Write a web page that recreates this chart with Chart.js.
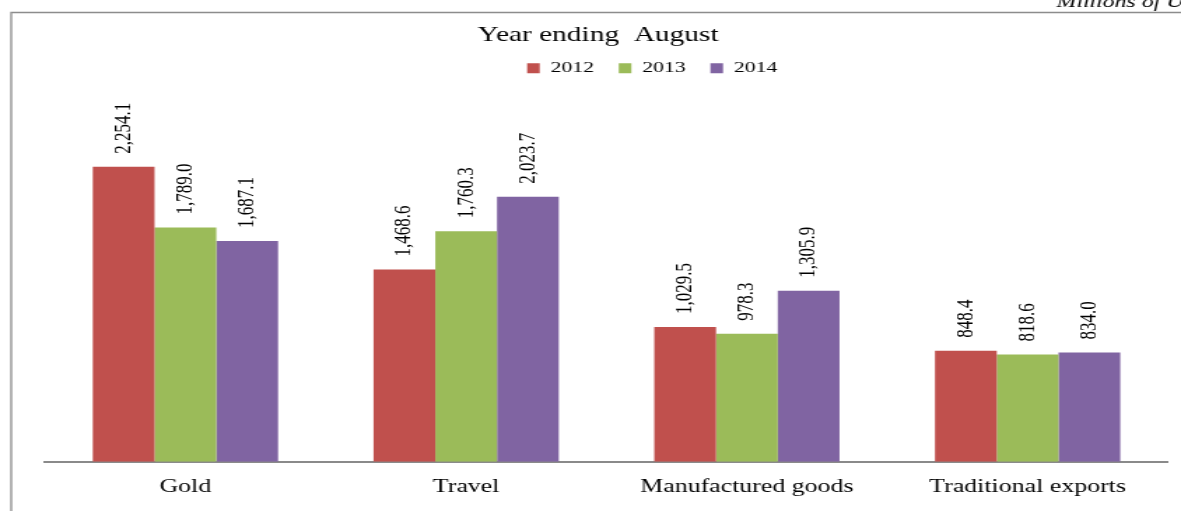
<!DOCTYPE html>
<html>
<head>
<meta charset="utf-8">
<script src="https://cdn.jsdelivr.net/npm/chart.js@4.4.1/dist/chart.umd.min.js"></script>
<style>
  html, body { margin: 0; padding: 0; background: #fff; overflow: hidden; }
</style>
</head>
<body>
<!-- the reference is stretched sideways, so the canvas is drawn narrow and widened by its inline style -->
<canvas id="c" width="844" height="511" style="display:block;width:1181px;height:511px"></canvas>
<script>

const categories = ['Gold', 'Travel', 'Manufactured goods', 'Traditional exports']
const years      = ['2012', '2013', '2014']
const values2012 = [2254.1, 1468.6, 1029.5, 848.4]
const values2013 = [1789.0, 1760.3, 978.3, 818.6]
const values2014 = [1687.1, 2023.7, 1305.9, 834.0]
const colors     = ['#C0504D', '#9BBB59', '#8064A2']

const serif = "'Liberation Serif', 'Times New Roman', serif"


//frame line, unit note and the shifted title / legend
const framePlugin = {
      id: 'frame',
      afterLayout: (chart)=>{
            // legend sits right of centre in the reference
            chart.legend.left  += 36.5
            chart.legend.right += 36.5
            chart.titleBlock.left  -= 6
            chart.titleBlock.right -= 6
      },
      beforeDraw: (chart)=>{
            const ctx = chart.ctx
            ctx.save()
            ctx.strokeStyle = '#8c8c8c'
            ctx.lineWidth = 1.3
            ctx.beginPath()
            ctx.moveTo(8, chart.height)
            ctx.lineTo(8, 12.5)
            ctx.lineTo(chart.width, 12.5)
            ctx.stroke()

            ctx.fillStyle = '#000'
            ctx.font = 'italic 17px ' + serif
            ctx.textBaseline = 'alphabetic'
            ctx.fillText('Millions of US$', 755, 7)
            ctx.restore()
      }
}


//vertical value labels over each bar
const labelPlugin = {
      id: 'barLabels',
      afterDatasetsDraw: (chart)=>{
            const ctx = chart.ctx
            ctx.save()
            ctx.fillStyle = '#000'
            ctx.font = '17px ' + serif
            ctx.textAlign = 'left'
            ctx.textBaseline = 'middle'

            chart.data.datasets.forEach((ds, i)=>{
                  chart.getDatasetMeta(i).data.forEach((bar, j)=>{
                        const txt = ds.data[j].toLocaleString('en-US', {minimumFractionDigits: 1, maximumFractionDigits: 1})
                        ctx.save()
                        ctx.translate(bar.x, bar.y - 13)
                        ctx.rotate(-Math.PI / 2)
                        ctx.fillText(txt, 0, 0)
                        ctx.restore()
                  })
            })
            ctx.restore()
      }
}


const setup = {
      type: 'bar',
      data: {
            labels: categories,
            datasets: [values2012, values2013, values2014].map((vals, i)=>({
                  label: years[i] + '  ',
                  data: vals,
                  backgroundColor: colors[i],
                  borderWidth: 0,
                  categoryPercentage: 0.66,
                  barPercentage: 1.0
            }))
      },
      options: {
            responsive: false,
            devicePixelRatio: 1,
            animation: false,
            layout: { padding: { left: 32.2, right: 9.3, top: 0, bottom: -1 } },
            plugins: {
                  title: {
                        display: true,
                        text: 'Year ending  August',
                        color: '#000',
                        font: { family: serif, size: 21, weight: 'normal' },
                        padding: { top: 22.4, bottom: 2.9 }
                  },
                  legend: {
                        display: true,
                        position: 'top',
                        labels: {
                              color: '#000',
                              font: { family: serif, size: 15.5 },
                              boxWidth: 9,
                              boxHeight: 10,
                              padding: 10
                        }
                  },
                  tooltip: { enabled: false }
            },
            scales: {
                  x: {
                        grid: { display: false, drawTicks: false },
                        border: { display: true, color: '#8a8a8a', width: 2 },
                        ticks: {
                              color: '#000',
                              font: { family: serif, size: 18.5 },
                              padding: 14,
                              maxRotation: 0,
                              autoSkip: false
                        }
                  },
                  y: {
                        display: false,
                        min: 0,
                        max: 2870
                  }
            }
      },
      plugins: [framePlugin, labelPlugin]
}

new Chart(document.getElementById('c'), setup)

</script>
</body>
</html>
